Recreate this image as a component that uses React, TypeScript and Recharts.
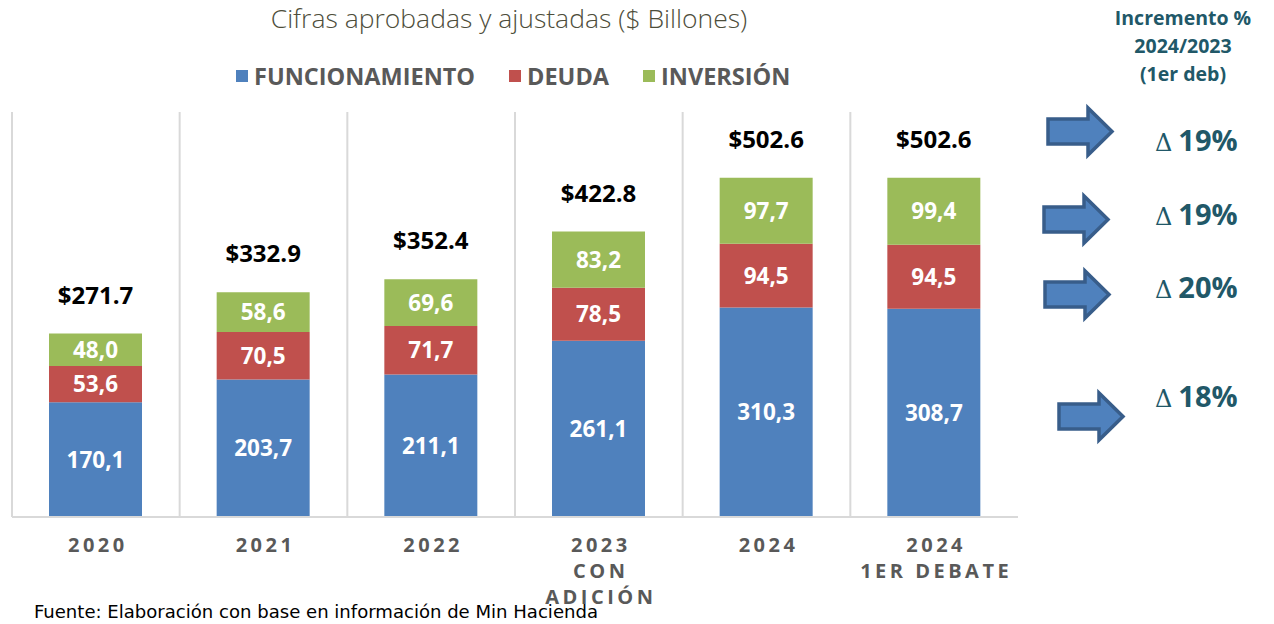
import { BarChart, Bar, XAxis, YAxis, CartesianGrid, LabelList } from "recharts";

const categories = ["2020", "2021", "2022", "2023|CON|ADICIÓN", "2024", "2024|1ER DEBATE"];
const funcionamiento = [170.1, 203.7, 211.1, 261.1, 310.3, 308.7];
const deuda = [53.6, 70.5, 71.7, 78.5, 94.5, 94.5];
const inversion = [48.0, 58.6, 69.6, 83.2, 97.7, 99.4];
const totals = [271.7, 332.9, 352.4, 422.8, 502.6, 502.6];

const seriesNames = ["FUNCIONAMIENTO", "DEUDA", "INVERSIÓN"];
const seriesColors = ["#4F81BD", "#C0504D", "#9BBB59"];

const incrementos = ["19%", "19%", "20%", "18%"];

const data = categories.map((c, i) => ({
    cat: c,
    funcionamiento: funcionamiento[i],
    deuda: deuda[i],
    inversion: inversion[i],
    total: totals[i],
}));

const FONT = "'Open Sans', 'Noto Sans', sans-serif";
const TEAL = "#215868";

const fmt = (v: any) => Number(v).toFixed(1).replace(".", ",");

function CatTick(props: any) {
    const { x, y, payload } = props;
    const lines = String(payload.value).split("|");
    return (
        <text
            x={x}
            y={y + 27}
            textAnchor="middle"
            fill="#595959"
            fontFamily={FONT}
            fontWeight={700}
            fontSize={20}
            letterSpacing={3.5}
        >
            {lines.map((l, i) => (
                <tspan key={i} x={x + 2} dy={i === 0 ? 0 : 26}>
                    {l}
                </tspan>
            ))}
        </text>
    );
}

function TotalLabel(props: any) {
    const { x, y, width, index } = props;
    return (
        <text
            x={x + width / 2}
            y={y - 30}
            textAnchor="middle"
            fill="#000"
            fontFamily={FONT}
            fontWeight={700}
            fontSize={24}
        >
            {"$" + totals[index].toFixed(1)}
        </text>
    );
}

function Arrow({ x, y }: { x: number; y: number }) {
    // 64 x 47 block arrow
    const pts = [
        [x, y + 11],
        [x + 40, y + 11],
        [x + 40, y],
        [x + 64, y + 23.5],
        [x + 40, y + 47],
        [x + 40, y + 36],
        [x, y + 36],
    ]
        .map((p) => p.join(","))
        .join(" ");
    return <polygon points={pts} fill="#4F81BD" stroke="#385D8A" strokeWidth={3.5} />;
}

const arrowPos = [
    { x: 1048, y: 108 },
    { x: 1044, y: 196 },
    { x: 1045, y: 271 },
    { x: 1059, y: 393 },
];
const deltaY = [151, 225, 298, 407];

const labelProps = {
    position: "center" as const,
    formatter: fmt,
    fill: "#fff",
    fontFamily: FONT,
    fontWeight: 700,
    fontSize: 22.5,
};

export default function App() {
    return (
        <div style={{ position: "absolute", left: 0, top: 0, width: 1274, height: 624, background: "#fff" }}>
            <div
                style={{
                    position: "absolute",
                    left: 0,
                    width: 1018,
                    top: 0,
                    textAlign: "center",
                    fontFamily: FONT,
                    fontWeight: 300,
                    fontSize: 26.5,
                    color: "#4d4d3a",
                }}
            >
                Cifras aprobadas y ajustadas ($ Billones)
            </div>
            <div
                style={{
                    position: "absolute",
                    left: 236,
                    top: 60,
                    display: "flex",
                    alignItems: "center",
                    fontFamily: FONT,
                    fontWeight: 700,
                    fontSize: 23.5,
                    color: "#595959",
                }}
            >
                {seriesNames.map((n, i) => (
                    <div key={n} style={{ display: "flex", alignItems: "center", marginRight: 34 }}>
                        <div style={{ width: 12, height: 12, background: seriesColors[i], marginRight: 6 }} />
                        <span>{n}</span>
                    </div>
                ))}
            </div>

            <div style={{ position: "absolute", left: 0, top: 0 }}>
                <BarChart
                    width={1030}
                    height={624}
                    data={data}
                    margin={{ top: 112, right: 12, left: 12, bottom: 7 }}
                    barSize={93}
                >
                    <CartesianGrid
                        horizontal={false}
                        vertical={true}
                        stroke="#d9d9d9"
                        strokeWidth={2}
                        verticalCoordinatesGenerator={({ offset }: any) =>
                            categories.map((_, i) => offset.left + (i * offset.width) / categories.length)
                        }
                    />
                    <XAxis
                        dataKey="cat"
                        height={100}
                        tickLine={false}
                        axisLine={{ stroke: "#d9d9d9", strokeWidth: 2 }}
                        interval={0}
                        tick={<CatTick />}
                    />
                    <YAxis hide domain={[0, 600]} />
                    <Bar dataKey="funcionamiento" stackId="a" fill={seriesColors[0]} isAnimationActive={false}>
                        <LabelList dataKey="funcionamiento" {...labelProps} />
                    </Bar>
                    <Bar dataKey="deuda" stackId="a" fill={seriesColors[1]} isAnimationActive={false}>
                        <LabelList dataKey="deuda" {...labelProps} />
                    </Bar>
                    <Bar dataKey="inversion" stackId="a" fill={seriesColors[2]} isAnimationActive={false}>
                        <LabelList dataKey="inversion" {...labelProps} />
                        <LabelList dataKey="total" content={<TotalLabel />} />
                    </Bar>
                </BarChart>
            </div>

            <svg style={{ position: "absolute", left: 0, top: 0 }} width={1274} height={624}>
                <text
                    x={1183}
                    y={25}
                    textAnchor="middle"
                    fill={TEAL}
                    fontFamily={FONT}
                    fontWeight={700}
                    fontSize={19.5}
                >
                    <tspan x={1183} dy={0}>Incremento %</tspan>
                    <tspan x={1183} dy={28}>2024/2023</tspan>
                    <tspan x={1183} dy={28}>(1er deb)</tspan>
                </text>
                {arrowPos.map((p, i) => (
                    <Arrow key={i} x={p.x} y={p.y} />
                ))}
                {incrementos.map((v, i) => (
                    <text key={i} x={1155} y={deltaY[i]} fill={TEAL} fontFamily={FONT} fontSize={29}>
                        <tspan fontFamily="'DejaVu Serif', serif" fontWeight={400} fontSize={24}>
                            Δ
                        </tspan>
                        <tspan dx={6} fontWeight={700}>
                            {v}
                        </tspan>
                    </text>
                ))}
                <text
                    x={34}
                    y={618}
                    fill="#000"
                    fontFamily="'Liberation Sans Narrow', 'DejaVu Sans Condensed', sans-serif"
                    fontSize={18}
                    textLength={564}
                    lengthAdjust="spacingAndGlyphs"
                >
                    Fuente: Elaboración con base en información de Min Hacienda
                </text>
            </svg>
        </div>
    );
}
